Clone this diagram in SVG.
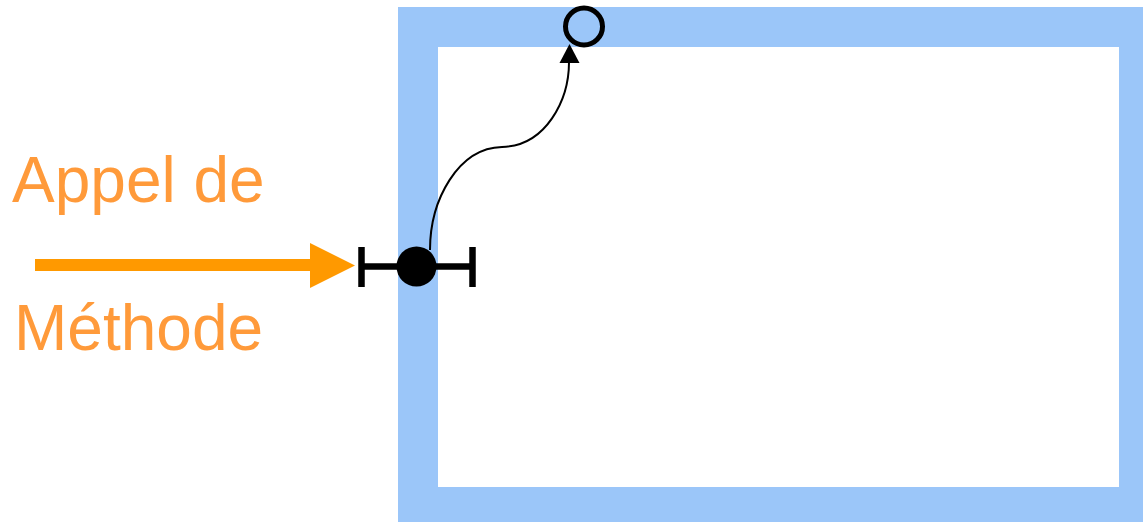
<svg xmlns="http://www.w3.org/2000/svg" width="1143" height="522" viewBox="0 0 1143 522">
<style>
.lbl{font-family:"Liberation Sans",Arial,sans-serif;font-size:64px;fill:#ff9a3a}
</style>
<rect width="1143" height="522" fill="#ffffff"/>
<g id="frame">
<rect x="418" y="27" width="721" height="480" fill="#ffffff" stroke="#9bc6f9" stroke-width="40"/>
</g>
<g id="label">
<text class="lbl" x="12" y="202">Appel de</text>
<text class="lbl" x="14" y="350">Méthode</text>
</g>
<g id="port">
<line x1="361.5" y1="266.5" x2="472.5" y2="266.5" stroke="#000" stroke-width="6.5"/>
<line x1="361.5" y1="247" x2="361.5" y2="287" stroke="#000" stroke-width="6.5"/>
<line x1="472.5" y1="247" x2="472.5" y2="287" stroke="#000" stroke-width="6.5"/>
<circle cx="416.5" cy="266.5" r="20" fill="#000"/>
</g>
<g id="target">
<circle cx="584" cy="26.5" r="18.5" fill="none" stroke="#000" stroke-width="5"/>
</g>
<g id="connectors">
<line x1="35" y1="265" x2="312" y2="265" stroke="#ff9900" stroke-width="12"/>
<polygon points="310,243 355,265.5 310,288" fill="#ff9900"/>
<path d="M430,250 C430,200 458,148 502,147 C546,146 569,100 569,62" fill="none" stroke="#000" stroke-width="2"/>
<polygon points="569.5,44 559.5,63 579.5,63" fill="#000"/>
</g>
</svg>
